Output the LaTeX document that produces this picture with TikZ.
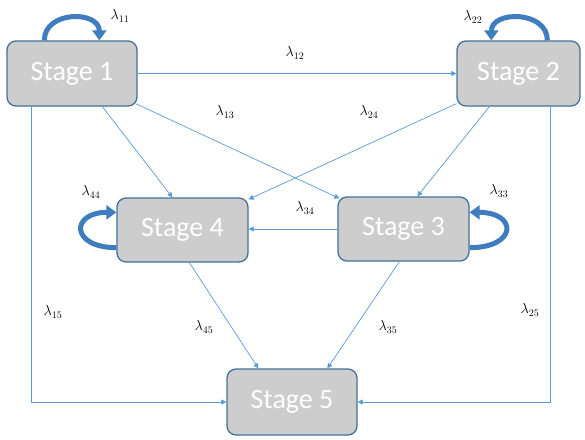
\documentclass[tikz,border=0pt]{standalone}
\usepackage{fontspec}
\newfontfamily\boxfont{Carlito}
\usetikzlibrary{arrows.meta,calc}
\definecolor{boxfill}{HTML}{CDCDCD}
\definecolor{boxedge}{HTML}{41719C}
\definecolor{linkblue}{HTML}{5B9BD5}
\definecolor{loopblue}{HTML}{3F7DBF}
\begin{document}
\begin{tikzpicture}[x=1pt,y=-1pt,
  stagebox/.style={draw=boxedge, line width=1.3pt, fill=boxfill, rounded corners=9pt,
    minimum width=130pt, minimum height=65pt, text=white, inner sep=0pt,
    font=\boxfont\fontsize{28}{30}\selectfont},
  link/.style={draw=linkblue, line width=0.7pt, -{Triangle[width=5pt,length=5pt]}},
  selfloop/.style={draw=loopblue, line width=5pt, -{Triangle[width=14pt,length=10pt]}},
  rate/.style={font=\fontsize{14.5}{16}\selectfont, inner sep=0pt}]
\useasboundingbox (0,0) rectangle (585,439);

% stages
\node[stagebox] (s1) at (72,73.5) {Stage 1};
\node[stagebox, minimum width=123pt] (s2) at (518.5,73.5) {Stage 2};
\node[stagebox, minimum width=131pt, minimum height=64pt] (s4) at (182.5,230) {Stage 4};
\node[stagebox, minimum width=131pt, minimum height=64pt] (s3) at (403.5,229) {Stage 3};
\node[stagebox, minimum height=66pt] (s5) at (292,402) {Stage 5};

% transitions between stages
\draw[link] (s1.east) -- (s2.west);
\draw[link] ($(s1.south west)+(96,0)$) -- ($(s4.north west)+(56,0)$);
\draw[link] ($(s1.south east)+(-2,-3)$) -- ($(s3.north west)+(2,2)$);
\draw[link] ($(s2.south west)+(0,-3)$) -- ($(s4.north east)+(0,2)$);
\draw[link] ($(s2.south west)+(33,0)$) -- ($(s3.north west)+(80,0)$);
\draw[link] (s3.west) -- (s3.west -| s4.east);
\draw[link] ($(s4.south west)+(73,0)$) -- ($(s5.north west)+(32,0)$);
\draw[link] ($(s3.south west)+(62,0)$) -- ($(s5.north west)+(101,0)$);
\draw[link] ($(s1.south west)+(25,0)$) |- (s5.west);
\draw[link] ($(s2.south west)+(94,0)$) |- (s5.east);

% staying in the same stage
\coordinate (a1) at ($(s1.north west)+(38,0)$);
\coordinate (b1) at ($(s1.north west)+(93,0)$);
\coordinate (c1) at ($(a1)+(0,-30)$);
\coordinate (d1) at ($(b1)+(0,-30)$);
\draw[selfloop] (a1) .. controls (c1) and (d1) .. (b1);

\coordinate (a2) at ($(s2.north west)+(91,0)$);
\coordinate (b2) at ($(s2.north west)+(35,0)$);
\coordinate (c2) at ($(a2)+(0,-30)$);
\coordinate (d2) at ($(b2)+(0,-30)$);
\draw[selfloop] (a2) .. controls (c2) and (d2) .. (b2);

\coordinate (a4) at ($(s4.south west)+(0,-15)$);
\coordinate (b4) at ($(s4.north west)+(0,15)$);
\coordinate (c4) at ($(a4)+(-46,0)$);
\coordinate (d4) at ($(b4)+(-46,0)$);
\draw[selfloop] (a4) .. controls (c4) and (d4) .. (b4);

\coordinate (a3) at ($(s3.south east)+(0,-14)$);
\coordinate (b3) at ($(s3.north east)+(0,16)$);
\coordinate (c3) at ($(a3)+(48,0)$);
\coordinate (d3) at ($(b3)+(48,0)$);
\draw[selfloop] (a3) .. controls (c3) and (d3) .. (b3);

% transition rates
\node[rate] (l11) at (120,16) {$\lambda_{11}$};
\node[rate] (l22) at (473,17) {$\lambda_{22}$};
\node[rate] (l12) at (295,53) {$\lambda_{12}$};
\node[rate] (l13) at (225,112) {$\lambda_{13}$};
\node[rate] (l24) at (369,112) {$\lambda_{24}$};
\node[rate] (l44) at (91,192) {$\lambda_{44}$};
\node[rate] (l33) at (499,191) {$\lambda_{33}$};
\node[rate] (l34) at (305,208) {$\lambda_{34}$};
\node[rate] (l15) at (53,312) {$\lambda_{15}$};
\node[rate] (l25) at (530,310) {$\lambda_{25}$};
\node[rate] (l45) at (204,327) {$\lambda_{45}$};
\node[rate] (l35) at (388,327) {$\lambda_{35}$};
\end{tikzpicture}
\end{document}
